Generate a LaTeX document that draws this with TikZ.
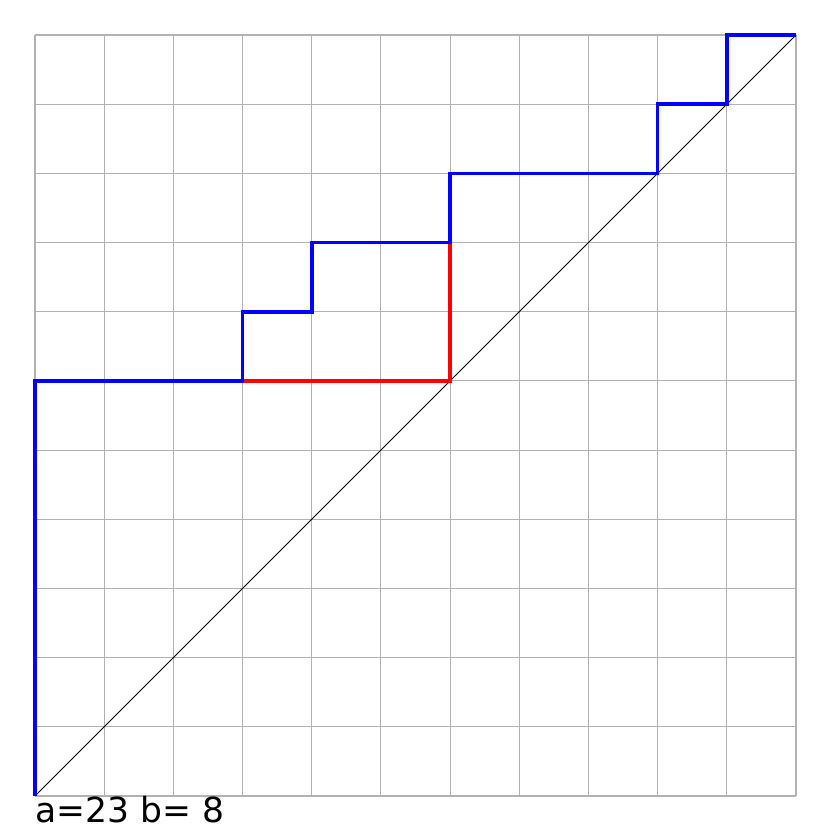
\documentclass[tikz,border=0pt]{standalone}
\usepackage{fontspec}
\setmainfont{DejaVu Sans}
\begin{document}
\begin{tikzpicture}[x=1cm,y=1cm,
  gridline/.style={draw=black!30,line width=0.45pt},
  diag/.style={draw=black,line width=0.3pt},
  bluepath/.style={draw=blue,line width=1.5pt,line join=miter},
  redpath/.style={draw=red,line width=1.5pt,line join=miter}]
\useasboundingbox (-0.506,-0.506) rectangle (11.506,11.506);
\draw[gridline] (0,0) grid (11,11);
\coordinate (o) at (0,0);
\coordinate (e) at (11,11);
\draw[diag] (o) -- (e);
\coordinate (r1) at (3,6);
\coordinate (r2) at (6,6);
\coordinate (r3) at (6,8);
\draw[redpath] (r1) -- (r2) -- (r3);
\draw[bluepath] (o) -- (0,6) -- (r1) -- (3,7) -- (4,7) -- (4,8) -- (r3) -- (6,9) -- (9,9) -- (9,10) -- (10,10) -- (10,11) -- (e);
\node[anchor=base west,inner sep=0pt,font=\fontsize{14.2}{16}\selectfont] (lbl) at (0,-0.39) {a=23 b= 8};
\end{tikzpicture}
\end{document}
